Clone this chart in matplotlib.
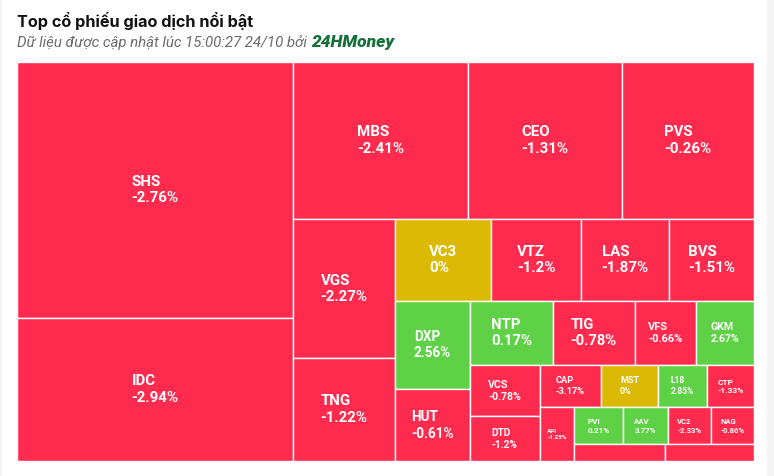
import numpy as np
import matplotlib
matplotlib.use("Agg")
import matplotlib.pyplot as plt
from matplotlib.patches import Rectangle

# stocks, ordered by traded value (largest first)
tickers = ["SHS", "IDC", "MBS", "CEO", "PVS", "VGS", "TNG", "VC3", "VTZ", "LAS",
           "BVS", "DXP", "HUT", "NTP", "TIG", "VFS", "GKM", "VCS", "DTD", "CAP",
           "MST", "L18", "CTP", "API", "PVI", "AAV", "VC2", "NAG", "", ""]
volumes = [70656, 39468, 27475, 24178, 20724, 14069, 10373, 7833, 7290, 7128,
           6885, 6648, 5378, 5356, 5273, 3948, 3749, 3570, 3101, 2591,
           2394, 2083, 1974, 1850, 1779, 1647, 1599, 1574, 1513, 1498]
changes = [-2.76, -2.94, -2.41, -1.31, -0.26, -2.27, -1.22, 0, -1.2, -1.87,
           -1.51, 2.56, -0.61, 0.17, -0.78, -0.66, 2.67, -0.78, -1.2, -3.17,
           0, 2.85, -1.33, -1.25, 0.21, 3.77, -2.33, -0.86, -1.0, -1.0]  # last two unlabeled (red)

title = "Top cổ phiếu giao dịch nổi bật"
subtitle = "Dữ liệu được cập nhật lúc 15:00:27 24/10 bởi"
brand = "24HMoney"

RED = "#fe2b4f"
GREEN = "#5fd147"
YELLOW = "#dcb904"

W_PX, H_PX = 774, 476
PL, PT, PW, PH = 17, 62, 737, 399   # plot area in pixels


def squarified(values, width, height):
    # alternating-direction squarified layout (column first, then row, ...)
    total = float(sum(values))
    areas = [v / total * width * height for v in values]
    rects = []
    state = {"x": 0.0, "y": 0.0, "w": float(width), "h": float(height), "d": 0}

    def aspect(a, tot):
        if state["d"] == 0:
            sw = tot / state["h"]
            sh = a / sw
        else:
            sh = tot / state["w"]
            sw = a / sh
        return max(sw / sh, sh / sw)

    def lay(group):
        tot = sum(group)
        if state["d"] == 0:
            sw = tot / state["h"]
            yy = state["y"]
            for a in group:
                rects.append((state["x"], yy, sw, a / sw))
                yy += a / sw
            state["x"] += sw
            state["w"] -= sw
        else:
            sh = tot / state["w"]
            xx = state["x"]
            for a in group:
                rects.append((xx, state["y"], a / sh, sh))
                xx += a / sh
            state["y"] += sh
            state["h"] -= sh
        state["d"] = 1 - state["d"]

    group = []
    for a in areas:
        if group:
            old = aspect(group[-1], sum(group))
            new = aspect(group[-1], sum(group) + a)
            if new > old:
                lay(group)
                group = []
        group.append(a)
    lay(group)
    return rects


def colour(c):
    if c > 0:
        return GREEN
    if c < 0:
        return RED
    return YELLOW


def label_px(w, h):
    s = np.sqrt(w * h)
    size = 15 if s >= 70 else 1.94 + 0.144 * s
    return min(size, 0.18 * w)


fig = plt.figure(figsize=(W_PX / 100, H_PX / 100), dpi=100)
fig.patch.set_facecolor("white")

# faint card edges
fig.add_artist(Rectangle((767 / W_PX, 0), 7 / W_PX, 1, transform=fig.transFigure,
                         color="#f4f4f4", lw=0))
fig.add_artist(Rectangle((0, 0), 2 / W_PX, 1, transform=fig.transFigure,
                         color="#f4f4f4", lw=0))

ax = fig.add_axes([PL / W_PX, 1 - (PT + PH) / H_PX, PW / W_PX, PH / H_PX])
ax.set_xlim(0, PW)
ax.set_ylim(PH, 0)
ax.axis("off")

rects = squarified(volumes, PW, PH)
for (x, y, w, h), t, c in zip(rects, tickers, changes):
    ax.add_patch(Rectangle((x, y), w, h, facecolor=colour(c), edgecolor="white",
                           lw=1.0, clip_on=False))
    if t and h >= 20:
        ax.text(x + w / 2, y + h / 2, f"{t}\n{c:g}%", ha="center", va="center",
                multialignment="left", color="white", fontweight="bold",
                family="Roboto", fontsize=label_px(w, h) * 0.72, linespacing=1.25)

fig.text(PL / W_PX, 1 - 27 / H_PX, title, family="Inter", fontweight="bold",
         fontsize=11.7, color="#111111", va="baseline")
sub = fig.text(PL / W_PX, 1 - 47 / H_PX, subtitle, family="Roboto", style="italic",
               fontsize=10.8, color="#6b6b6b", va="baseline")
bb = sub.get_window_extent(fig.canvas.get_renderer())
fig.text((bb.x1 + 4) / W_PX, 1 - 47 / H_PX, brand, family="Roboto", style="italic",
         fontweight="heavy", fontsize=12.5, color="#17703a", va="baseline")

fig.savefig("out.png", dpi=100)
